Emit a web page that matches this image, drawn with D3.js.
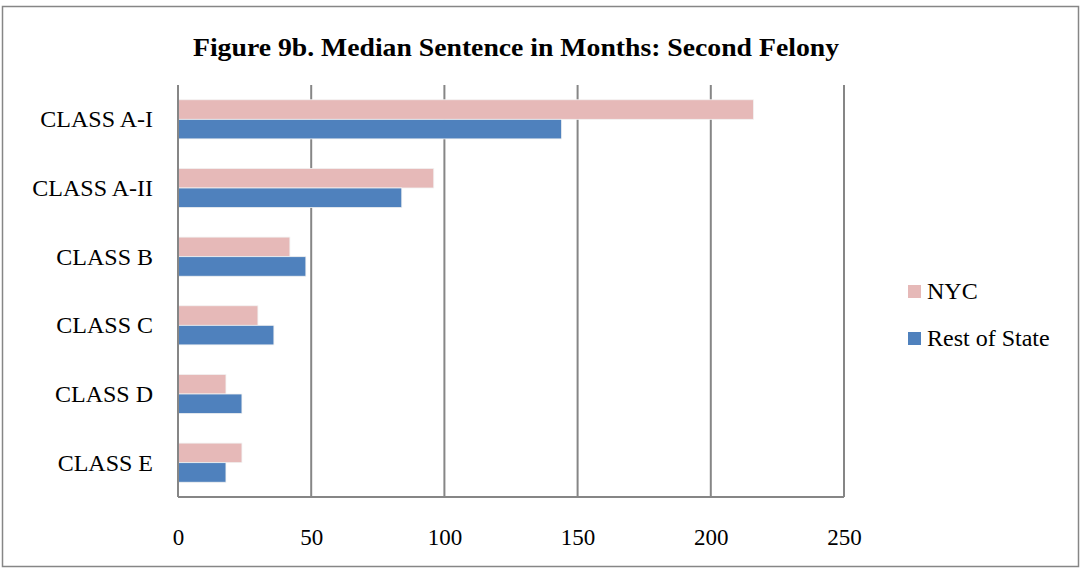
<!DOCTYPE html>
<html><head><meta charset="utf-8">
<script src="https://cdn.jsdelivr.net/npm/d3@7"></script>
<style>body{margin:0;background:#fff}svg{display:block}text{font-family:"Liberation Serif","Times New Roman",serif;fill:#000}</style>
</head><body>
<svg id="c" width="1081" height="568"></svg>
<script>
const categories = ["CLASS A-I","CLASS A-II","CLASS B","CLASS C","CLASS D","CLASS E"];
const nycValues = [216, 96, 42, 30, 18, 24];
const restValues = [144, 84, 48, 36, 24, 18];
const seriesNames = ["NYC","Rest of State"];
const xTicks = [0,50,100,150,200,250];
const title = "Figure 9b. Median Sentence in Months: Second Felony";
const colors = ["#e6b9b8","#4f81bd"];

const svg = d3.select("#c");
svg.append("rect").attr("x",2.5).attr("y",6.5).attr("width",1076).attr("height",560)
  .attr("fill","#fff").attr("stroke","#868686").attr("stroke-width",1.5);

const m = {l:178, r:844, t:85, b:497};
const x = d3.scaleLinear().domain([0,250]).range([m.l,m.r]);
const y = d3.scaleBand().domain(categories).range([m.t,m.b]).paddingInner(0.43).paddingOuter(0.215);
const sub = d3.scaleBand().domain(seriesNames).range([0,y.bandwidth()]);

svg.append("g").selectAll("line").data(xTicks).join("line")
  .attr("x1",d=>x(d)).attr("x2",d=>x(d)).attr("y1",m.t).attr("y2",m.b)
  .attr("stroke","#868686").attr("stroke-width",2);
svg.append("line").attr("x1",m.l).attr("x2",m.r).attr("y1",m.b).attr("y2",m.b)
  .attr("stroke","#868686").attr("stroke-width",2);

const data = categories.map((c,i)=>({c, vals:[nycValues[i], restValues[i]]}));
const g = svg.append("g").selectAll("g").data(data).join("g")
  .attr("transform",d=>`translate(0,${y(d.c)})`);
g.selectAll("rect").data(d=>d.vals.map((v,j)=>({v,s:seriesNames[j],j}))).join("rect")
  .attr("x",x(0)).attr("y",d=>sub(d.s)).attr("height",sub.bandwidth())
  .attr("width",d=>x(d.v)-x(0)).attr("fill",d=>colors[d.j])
  .attr("stroke","#f2f2f2").attr("stroke-width",0.8);

svg.append("line").attr("x1",m.l).attr("x2",m.l).attr("y1",m.t).attr("y2",m.b)
  .attr("stroke","#868686").attr("stroke-width",2);

const xAxis = d3.axisBottom(x).tickValues(xTicks).tickSize(0).tickPadding(0);
const xa = svg.append("g").attr("transform",`translate(0,${m.b+48})`).call(xAxis);
xa.select(".domain").remove();
xa.selectAll("text").attr("font-size",23).attr("font-family","Liberation Serif").attr("fill","#000").attr("dy",0);

const yAxis = d3.axisLeft(y).tickSize(0).tickPadding(0);
const ya = svg.append("g").attr("transform",`translate(${m.l-25},0)`).call(yAxis);
ya.select(".domain").remove();
ya.selectAll("text").attr("font-size",24).attr("font-family","Liberation Serif").attr("fill","#000").attr("dy","0.33em");

svg.append("text").attr("x",516).attr("y",56).attr("text-anchor","middle")
  .attr("font-size",25).attr("font-weight","bold")
  .attr("textLength",646).attr("lengthAdjust","spacingAndGlyphs").text(title);

const leg = svg.append("g").selectAll("g").data(seriesNames).join("g")
  .attr("transform",(d,i)=>`translate(908,${285+i*47})`);
leg.append("rect").attr("width",13).attr("height",13).attr("fill",(d,i)=>colors[i]);
leg.append("text").attr("x",19).attr("y",14).attr("font-size",24).text(d=>d);
</script>
</body></html>
